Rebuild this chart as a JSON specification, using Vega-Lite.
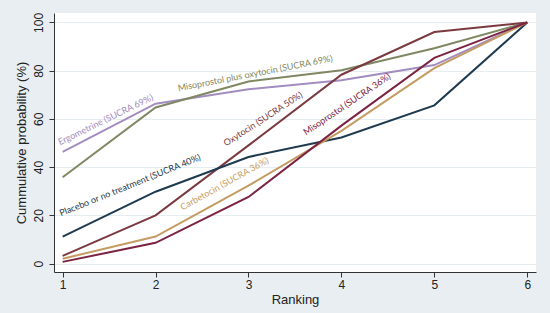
{
  "$schema": "https://vega.github.io/schema/vega-lite/v6.json",
  "width": 482,
  "height": 259,
  "autosize": {"type": "none"},
  "padding": {"left": 54, "top": 13, "right": 14, "bottom": 41},
  "background": "#e8eef2",
  "config": {
    "view": {"fill": "white", "stroke": null},
    "axis": {"labelFont": "Liberation Sans", "titleFont": "Liberation Sans", "labelColor": "#222", "titleColor": "#222", "domainColor": "#333", "tickColor": "#333", "domainWidth": 1, "tickWidth": 1, "tickSize": 5}
  },
  "datasets": {
    "curves": [
      {"treatment": "Ergometrine", "rank": 1, "prob": 46.3},
      {"treatment": "Ergometrine", "rank": 2, "prob": 66.3},
      {"treatment": "Ergometrine", "rank": 3, "prob": 72.3},
      {"treatment": "Ergometrine", "rank": 4, "prob": 76},
      {"treatment": "Ergometrine", "rank": 5, "prob": 82.3},
      {"treatment": "Ergometrine", "rank": 6, "prob": 100},
      {"treatment": "Misoprostol plus oxytocin", "rank": 1, "prob": 35.8},
      {"treatment": "Misoprostol plus oxytocin", "rank": 2, "prob": 64.7},
      {"treatment": "Misoprostol plus oxytocin", "rank": 3, "prob": 75.5},
      {"treatment": "Misoprostol plus oxytocin", "rank": 4, "prob": 80.2},
      {"treatment": "Misoprostol plus oxytocin", "rank": 5, "prob": 89.3},
      {"treatment": "Misoprostol plus oxytocin", "rank": 6, "prob": 100},
      {"treatment": "Oxytocin", "rank": 1, "prob": 3.2},
      {"treatment": "Oxytocin", "rank": 2, "prob": 20},
      {"treatment": "Oxytocin", "rank": 3, "prob": 49},
      {"treatment": "Oxytocin", "rank": 4, "prob": 78.3},
      {"treatment": "Oxytocin", "rank": 5, "prob": 96},
      {"treatment": "Oxytocin", "rank": 6, "prob": 100},
      {"treatment": "Placebo or no treatment", "rank": 1, "prob": 11.2},
      {"treatment": "Placebo or no treatment", "rank": 2, "prob": 29.8},
      {"treatment": "Placebo or no treatment", "rank": 3, "prob": 44.2},
      {"treatment": "Placebo or no treatment", "rank": 4, "prob": 52.3},
      {"treatment": "Placebo or no treatment", "rank": 5, "prob": 65.6},
      {"treatment": "Placebo or no treatment", "rank": 6, "prob": 100},
      {"treatment": "Carbetocin", "rank": 1, "prob": 2.0},
      {"treatment": "Carbetocin", "rank": 2, "prob": 11.2},
      {"treatment": "Carbetocin", "rank": 3, "prob": 32.3},
      {"treatment": "Carbetocin", "rank": 4, "prob": 55},
      {"treatment": "Carbetocin", "rank": 5, "prob": 81},
      {"treatment": "Carbetocin", "rank": 6, "prob": 100},
      {"treatment": "Misoprostol", "rank": 1, "prob": 0.7},
      {"treatment": "Misoprostol", "rank": 2, "prob": 8.6},
      {"treatment": "Misoprostol", "rank": 3, "prob": 27.6},
      {"treatment": "Misoprostol", "rank": 4, "prob": 57.2},
      {"treatment": "Misoprostol", "rank": 5, "prob": 85.3},
      {"treatment": "Misoprostol", "rank": 6, "prob": 100}
    ],
    "labels": [
      {"treatment": "Ergometrine", "label": "Ergometrine (SUCRA 69%)", "rank": 0.98, "prob": 48.3},
      {"treatment": "Misoprostol plus oxytocin", "label": "Misoprostol plus oxytocin (SUCRA 69%)", "rank": 2.25, "prob": 70.6},
      {"treatment": "Oxytocin", "label": "Oxytocin (SUCRA 50%)", "rank": 2.77, "prob": 47.8},
      {"treatment": "Placebo or no treatment", "label": "Placebo or no treatment (SUCRA 40%)", "rank": 0.99, "prob": 18.8},
      {"treatment": "Carbetocin", "label": "Carbetocin (SUCRA 36%)", "rank": 2.3, "prob": 21.3},
      {"treatment": "Misoprostol", "label": "Misoprostol (SUCRA 36%)", "rank": 3.63, "prob": 52.4}
    ]
  },
  "encoding": {
    "x": {"field": "rank", "type": "quantitative", "scale": {"domain": [0.907, 6.094], "nice": false, "zero": false},
      "axis": {"title": "Ranking", "values": [1, 2, 3, 4, 5, 6], "grid": false, "labelFontSize": 12, "titleFontSize": 13, "labelPadding": 2, "titlePadding": 3, "titleFontWeight": "normal"}},
    "y": {"field": "prob", "type": "quantitative", "scale": {"domain": [-3.5, 103.9], "nice": false, "zero": false},
      "axis": {"title": "Cummulative probability (%)", "values": [0, 20, 40, 60, 80, 100], "grid": true, "gridColor": "#e6edf1", "gridWidth": 1, "labelAngle": 270, "labelAlign": "center", "labelBaseline": "bottom", "labelFontSize": 12, "labelPadding": 4, "titleFontSize": 13, "titlePadding": 4, "titleFontWeight": "normal"}},
    "color": {"field": "treatment", "type": "nominal", "legend": null,
      "scale": {"domain": ["Ergometrine", "Misoprostol plus oxytocin", "Oxytocin", "Placebo or no treatment", "Carbetocin", "Misoprostol"],
        "range": ["#a28cc0", "#7f8862", "#7a3a40", "#1f3a4e", "#c49c63", "#7c2343"]}}
  },
  "layer": [
    {"data": {"name": "curves"}, "mark": {"type": "line", "strokeWidth": 2}, "encoding": {"detail": {"field": "treatment"}}},
    {"data": {"name": "labels"}, "transform": [{"filter": "datum.treatment === 'Ergometrine'"}], "mark": {"type": "text", "angle": -26, "align": "left", "baseline": "bottom", "font": "Lato", "fontSize": 9}, "encoding": {"text": {"field": "label"}}},
    {"data": {"name": "labels"}, "transform": [{"filter": "datum.treatment === 'Misoprostol plus oxytocin'"}], "mark": {"type": "text", "angle": -11, "align": "left", "baseline": "bottom", "font": "Lato", "fontSize": 9}, "encoding": {"text": {"field": "label"}}},
    {"data": {"name": "labels"}, "transform": [{"filter": "datum.treatment === 'Oxytocin'"}], "mark": {"type": "text", "angle": -33, "align": "left", "baseline": "bottom", "font": "Lato", "fontSize": 9}, "encoding": {"text": {"field": "label"}}},
    {"data": {"name": "labels"}, "transform": [{"filter": "datum.treatment === 'Placebo or no treatment'"}], "mark": {"type": "text", "angle": -22, "align": "left", "baseline": "bottom", "font": "Lato", "fontSize": 9}, "encoding": {"text": {"field": "label"}}},
    {"data": {"name": "labels"}, "transform": [{"filter": "datum.treatment === 'Carbetocin'"}], "mark": {"type": "text", "angle": -29, "align": "left", "baseline": "bottom", "font": "Lato", "fontSize": 9}, "encoding": {"text": {"field": "label"}}},
    {"data": {"name": "labels"}, "transform": [{"filter": "datum.treatment === 'Misoprostol'"}], "mark": {"type": "text", "angle": -34, "align": "left", "baseline": "bottom", "font": "Lato", "fontSize": 9}, "encoding": {"text": {"field": "label"}}}
  ]
}
